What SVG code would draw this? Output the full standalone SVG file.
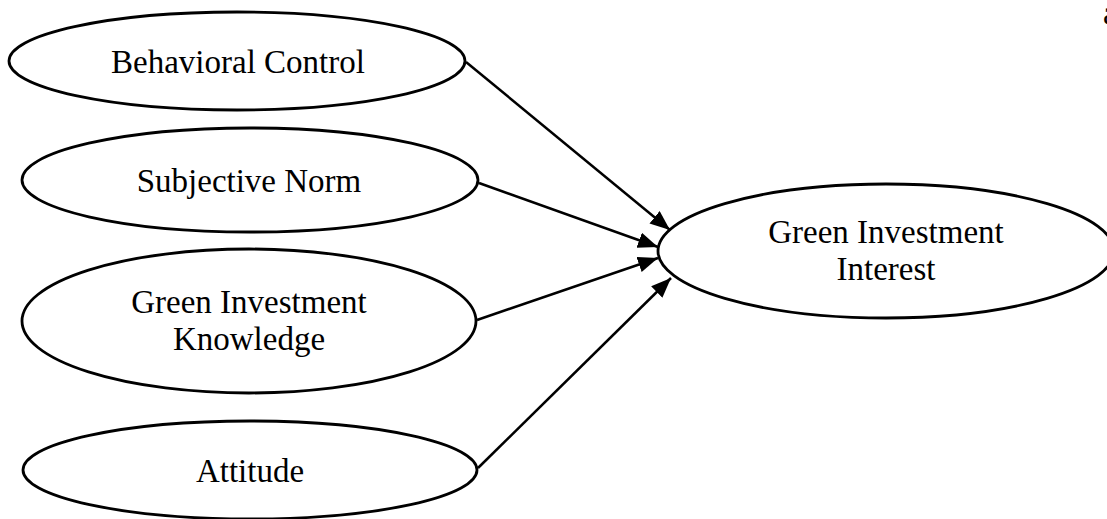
<svg xmlns="http://www.w3.org/2000/svg" width="1107" height="519" viewBox="0 0 1107 519">
<style>
.node ellipse{fill:#fff;stroke:#000;stroke-width:2.8}
text{font-family:"Liberation Serif","Times New Roman",serif;font-size:33px;fill:#000;text-anchor:middle}
.edges line{stroke:#000;stroke-width:2.5}
</style>
<defs>
<marker id="arr" markerUnits="userSpaceOnUse" markerWidth="22" markerHeight="18" refX="20" refY="8" orient="auto">
<path d="M0,0 L20,8 L0,16 z" fill="#000"/>
</marker>
</defs>
<rect width="1107" height="519" fill="#fff"/>
<g id="behavioral-control" class="node">
<ellipse cx="237" cy="61" rx="228" ry="49"/>
<text x="238" y="73">Behavioral Control</text>
</g>
<g id="subjective-norm" class="node">
<ellipse cx="250" cy="180" rx="228" ry="52"/>
<text x="249" y="192">Subjective Norm</text>
</g>
<g id="green-investment-knowledge" class="node">
<ellipse cx="249" cy="321" rx="227" ry="72"/>
<text x="249" y="313">Green Investment</text>
<text x="249" y="350">Knowledge</text>
</g>
<g id="attitude" class="node">
<ellipse cx="250" cy="470" rx="227" ry="49"/>
<text x="250" y="482">Attitude</text>
</g>
<g id="green-investment-interest" class="node">
<ellipse cx="886" cy="251" rx="228" ry="67"/>
<text x="886" y="243">Green Investment</text>
<text x="886" y="280">Interest</text>
</g>
<g id="connectors" class="edges">
<line x1="466" y1="62" x2="670" y2="230" marker-end="url(#arr)"/>
<line x1="479" y1="183" x2="658" y2="247" marker-end="url(#arr)"/>
<line x1="477" y1="320" x2="658" y2="258" marker-end="url(#arr)"/>
<line x1="478" y1="468" x2="671" y2="278" marker-end="url(#arr)"/>
</g>
<text x="1103" y="24" style="text-anchor:start">a</text>
</svg>
